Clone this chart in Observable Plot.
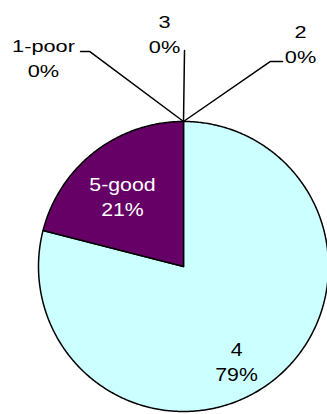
<!DOCTYPE html>
<html><head><meta charset="utf-8">
<script src="https://cdn.jsdelivr.net/npm/d3@7"></script>
<script src="https://cdn.jsdelivr.net/npm/@observablehq/plot@0.6"></script>
<style>html,body{margin:0;padding:0;background:#fff;} svg{display:block}</style>
</head><body><div id="chart"></div>
<script>
// ---- data ----
const categories = ["1-poor", "2", "3", "4", "5-good"];
const percents = [0, 0, 0, 79, 21];
const sliceColors = ["#9999FF", "#993366", "#FFFFCC", "#CCFFFF", "#660066"];
const labelColors = ["black", "black", "black", "black", "white"];

// ---- layout (pie units: radius 1, centre 0,0, y up) ----
const labelAnchors = [[-0.9655, 1.448], [0.807, 1.545], [-0.131, 1.617], [0.366, -0.645], [-0.421, 0.493]];
const leaderBends = [[[-0.648, 1.483], [-0.710, 1.483]], [[0.60, 1.414], [0.683, 1.414]], [[0.007, 1.49]], null, null];

const W = 327, H = 414, cx = 183, cy = 266, R = 145;

const arcs = d3.pie().sort(null).value(d => d).startAngle(0).endAngle(2 * Math.PI)(percents);

const slicePts = [];
arcs.forEach((a, i) => {
  if (a.endAngle - a.startAngle <= 0) return;
  slicePts.push({cat: categories[i], fill: sliceColors[i], x: 0, y: 0});
  const n = Math.max(2, Math.ceil((a.endAngle - a.startAngle) / 0.01));
  for (let k = 0; k <= n; k++) {
    const t = a.startAngle + (a.endAngle - a.startAngle) * k / n;
    slicePts.push({cat: categories[i], fill: sliceColors[i], x: Math.sin(t), y: Math.cos(t)});
  }
});

const leaderPts = [];
arcs.forEach((a, i) => {
  if (!leaderBends[i]) return;
  const m = (a.startAngle + a.endAngle) / 2;
  leaderPts.push({cat: categories[i], x: Math.sin(m), y: Math.cos(m)});
  leaderBends[i].forEach(([x, y]) => leaderPts.push({cat: categories[i], x, y}));
});

const labels = categories.map((c, i) => ({
  text: c + "\n" + percents[i] + "%",
  x: labelAnchors[i][0], y: labelAnchors[i][1],
  fill: labelColors[i], outer: percents[i] === 0
}));

const font = "Liberation Sans, Arial, sans-serif";

const chart = Plot.plot({
  width: W, height: H,
  margin: 0,
  style: {background: "white", fontFamily: font},
  x: {domain: [-cx / R, (W - cx) / R], range: [0, W], axis: null},
  y: {domain: [-(H - cy) / R, cy / R], range: [H, 0], axis: null},
  color: {type: "identity"},
  marks: [
    Plot.line(slicePts, {x: "x", y: "y", z: "cat", fill: "fill", stroke: "black", strokeWidth: 1.5, curve: "linear-closed"}),
    Plot.line(leaderPts, {x: "x", y: "y", z: "cat", stroke: "black", strokeWidth: 1.5}),
    Plot.text(labels.filter(d => d.outer), {x: "x", y: "y", text: "text", fill: "fill", fontSize: 17, lineHeight: 1.47, fontFamily: font}),
    Plot.text(labels.filter(d => !d.outer), {x: "x", y: "y", text: "text", fill: "fill", fontSize: 19, lineHeight: 1.32, fontFamily: font})
  ]
});

d3.select(chart).selectAll("text").each(function () {
  const fs = parseFloat(this.parentNode.getAttribute("font-size"));
  const s = fs < 18 ? 1.28 : 1.12;
  const t = this.getAttribute("transform") || "";
  this.setAttribute("transform", t + ` scale(${s},1)`);
});

document.getElementById("chart").appendChild(chart);
</script>
</body></html>
